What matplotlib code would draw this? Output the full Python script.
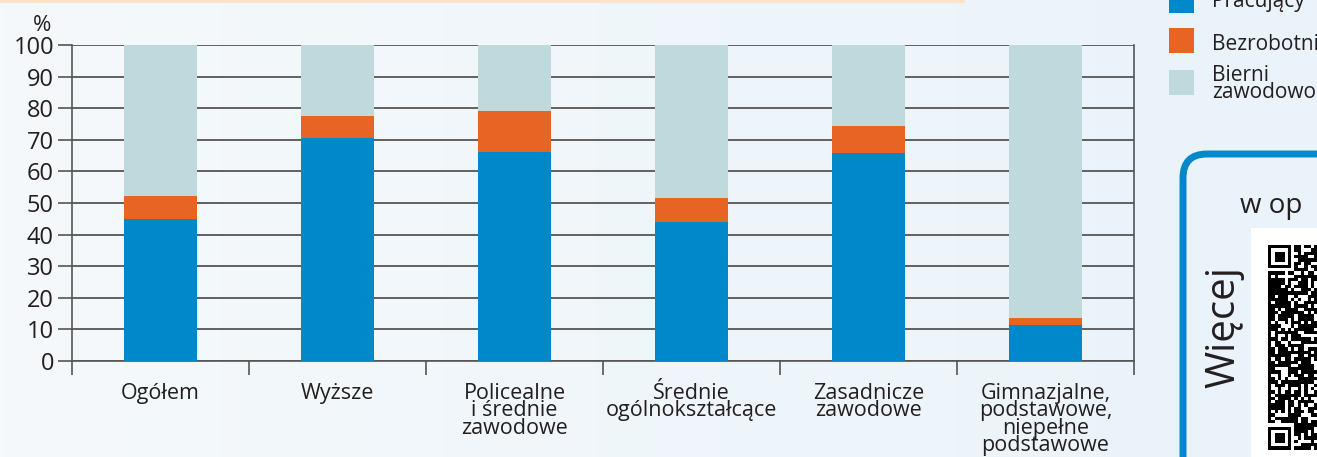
import numpy as np
import matplotlib.pyplot as plt
from matplotlib.patches import Rectangle, FancyBboxPatch
from matplotlib.colors import LinearSegmentedColormap

plt.rcParams['font.family'] = ['Open Sans', 'DejaVu Sans']

categories = ["Ogółem", "Wyższe", "Policealne\ni średnie\nzawodowe",
              "Średnie\nogólnokształcące", "Zasadnicze\nzawodowe",
              "Gimnazjalne,\npodstawowe,\nniepełne\npodstawowe"]
pracujacy = [44.9, 70.6, 66.1, 44.1, 65.8, 11.4]
bezrobotni = [7.3, 6.9, 13.0, 7.5, 8.6, 2.2]
bierni = [100 - p - b for p, b in zip(pracujacy, bezrobotni)]
series_names = ["Pracujący", "Bezrobotni", "Bierni\nzawodowo"]

c_blue = '#0088CB'
c_orange = '#E86424'
c_light = '#BFD9DD'
txt = '#231F20'

W, H = 1317, 457
fig = plt.figure(figsize=(W / 100, H / 100), dpi=100)

# background
bg = fig.add_axes([0, 0, 1, 1])
grad = np.linspace(0, 1, 256).reshape(1, -1)
cm = LinearSegmentedColormap.from_list('bg', ['#F5F9FB', '#EAF3FA'])
bg.imshow(grad, cmap=cm, aspect='auto', extent=[0, W, H, 0])
bg.set_xlim(0, W)
bg.set_ylim(H, 0)
bg.axis('off')
bg.add_patch(Rectangle((0, 0), 965, 3, color='#FCE3C8', lw=0))

# main chart
ax = fig.add_axes([72 / W, 1 - 361 / H, (1134 - 72) / W, (361 - 45) / H])
ax.patch.set_alpha(0)
x = np.arange(len(categories))
w = 0.41
ax.bar(x, pracujacy, w, color=c_blue, zorder=3)
ax.bar(x, bezrobotni, w, bottom=pracujacy, color=c_orange, zorder=3)
ax.bar(x, bierni, w, bottom=np.array(pracujacy) + np.array(bezrobotni),
       color=c_light, zorder=3)
ax.set_xlim(-0.5, len(categories) - 0.5)
ax.set_ylim(0, 100)
ax.set_yticks(range(0, 101, 10))
ax.yaxis.grid(True, color='#555555', lw=1.3, zorder=1)
ax.tick_params(axis='y', length=10, width=1.2, color='#555555', pad=3,
               labelsize=17, labelcolor=txt)
ax.set_xticks(np.arange(-0.5, len(categories), 1))
ax.set_xticklabels([])
ax.set_xticks(x, minor=True)
ax.set_xticklabels(categories, minor=True, fontsize=15.5, color=txt,
                   linespacing=0.76, va='top')
ax.tick_params(axis='x', which='major', length=10, width=1.2, color='#555555')
ax.tick_params(axis='x', which='minor', length=0, pad=16)
for s in ['left', 'right', 'bottom']:
    ax.spines[s].set_color('#555555')
    ax.spines[s].set_linewidth(1.2)
ax.spines['top'].set_visible(False)
ax.text(-0.02, 1.03, '%', transform=ax.transAxes, ha='right', va='bottom',
        fontsize=16, color=txt)

# legend
leg_y = [0, 40, 82]
txt_y = [2, 44, 84]
for col, name, yy, ty in zip([c_blue, c_orange, c_light], series_names, leg_y, txt_y):
    bg.add_patch(Rectangle((1169, yy - 12), 25, 25, color=col, lw=0))
    bg.text(1212, ty, name, fontsize=15, color=txt, va='center', ha='left',
            linespacing=0.7)

# side box
bg.add_patch(FancyBboxPatch((1183, 154), 200, 400,
                            boxstyle='round,pad=0,rounding_size=24',
                            fill=False, ec=c_blue, lw=5))
bg.text(1240, 206, 'w op', fontsize=20, color=txt, va='center', ha='left')
bg.text(1224, 327, 'Więcej', fontsize=29, color=txt, rotation=90,
        va='center', ha='center')
bg.add_patch(Rectangle((1251, 228), 70, 240, color='white', lw=0))
m = 3.3
ox, oy = 1268, 245
for i in range(15):
    for j in range(62):
        finder = (i < 7 and (j < 7 or j >= 55))
        if finder:
            ring = i in (0, 6) or j in (0, 6, 55, 61) or (2 <= i <= 4 and (2 <= j <= 4 or 57 <= j <= 59))
            if ring:
                bg.add_patch(Rectangle((ox + i * m, oy + j * m), m, m, color='black', lw=0))
        elif not (i < 8 and (j < 8 or j >= 54)):
            if ((i * 7 + j * 3) ^ (i * j)) % 3 != 1:
                bg.add_patch(Rectangle((ox + i * m, oy + j * m), m, m, color='black', lw=0))

fig.savefig('out.png', dpi=100)
